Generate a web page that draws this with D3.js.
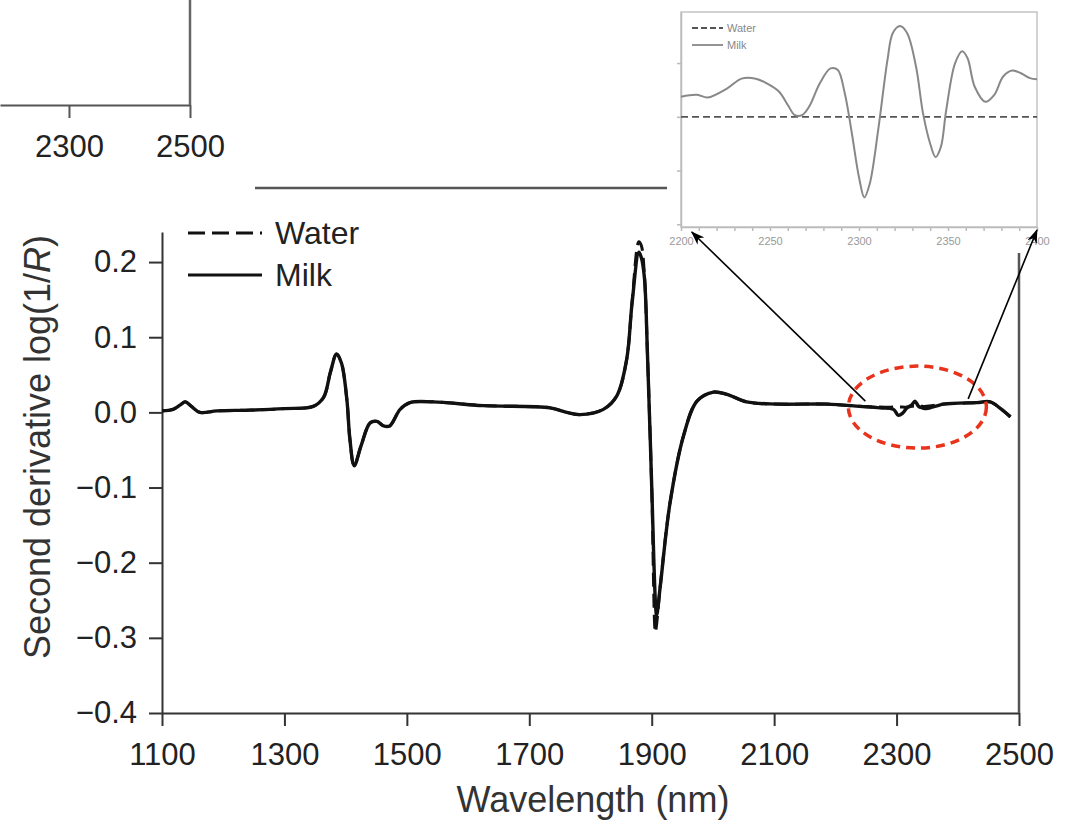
<!DOCTYPE html>
<html>
<head>
<meta charset="utf-8">
<script src="https://cdn.jsdelivr.net/npm/d3@7"></script>
<style>
  body { margin: 0; background: #fff; }
  svg { display: block; font-family: "Liberation Sans", Arial, sans-serif; }
</style>
</head>
<body>
<svg id="chart" width="1066" height="828"></svg>
<script>
// main spectrum
const wavelength = [1100, 1118, 1130, 1138, 1148, 1162, 1190, 1245, 1300, 1347, 1364, 1375, 1385, 1393, 1402, 1407,
  1414, 1425, 1440, 1451, 1462, 1472, 1489, 1505, 1543, 1625, 1734, 1761, 1783, 1821, 1843, 1859, 1868, 1879,
  1883, 1888, 1893, 1900, 1906, 1908, 1914, 1930, 1952, 1974, 2001, 2023, 2055, 2104, 2186, 2240, 2273, 2295,
  2303, 2310, 2317, 2325, 2330, 2336, 2342, 2349, 2377, 2431, 2453, 2470, 2486];
const milk = [0.002, 0.004, 0.010, 0.014, 0.008, 0.000, 0.002, 0.003, 0.005, 0.008, 0.020, 0.053, 0.077, 0.066, 0.017, -0.036,
  -0.071, -0.045, -0.014, -0.012, -0.018, -0.018, 0.004, 0.013, 0.014, 0.009, 0.006, 0.000, -0.003, 0.004, 0.022, 0.070, 0.146, 0.213,
  0.206, 0.180, 0.079, -0.098, -0.252, -0.270, -0.231, -0.120, -0.031, 0.015, 0.027, 0.024, 0.014, 0.011, 0.011, 0.008, 0.006, 0.004,
  -0.004, -0.001, 0.006, 0.010, 0.015, 0.008, 0.006, 0.005, 0.011, 0.013, 0.014, 0.005, -0.006];
const water = [0.002, 0.004, 0.010, 0.014, 0.008, 0.000, 0.002, 0.003, 0.005, 0.008, 0.020, 0.053, 0.078, 0.066, 0.017, -0.036,
  -0.071, -0.045, -0.014, -0.012, -0.018, -0.018, 0.004, 0.013, 0.014, 0.009, 0.006, 0.000, -0.003, 0.004, 0.022, 0.070, 0.148, 0.227,
  0.222, 0.184, 0.079, -0.100, -0.293, -0.282, -0.231, -0.120, -0.031, 0.015, 0.027, 0.024, 0.014, 0.011, 0.011, 0.008, 0.007, 0.007,
  0.007, 0.007, 0.007, 0.008, 0.008, 0.008, 0.008, 0.008, 0.011, 0.013, 0.014, 0.005, -0.006];
const xTicks = [1100, 1300, 1500, 1700, 1900, 2100, 2300, 2500];
const yTicks = [-0.4, -0.3, -0.2, -0.1, 0.0, 0.1, 0.2];
const seriesNames = ["Water", "Milk"];

// zoomed inset 2200-2400 nm
const insetWavelength = [2200, 2209, 2215, 2226, 2234, 2242, 2248, 2255, 2260, 2264, 2268, 2272, 2278, 2284, 2288, 2292,
  2296, 2300, 2303, 2306, 2311, 2316, 2319, 2323, 2327, 2332, 2336, 2340, 2343, 2346, 2349, 2354, 2358, 2361, 2365,
  2371, 2376, 2381, 2386, 2391, 2396, 2400];
const insetMilk = [0.375, 0.41, 0.36, 0.53, 0.71, 0.71, 0.625, 0.47, 0.22, 0.03, 0.03, 0.19, 0.625, 0.9, 0.875, 0.44,
  -0.31, -1.125, -1.5, -1.25, -0.19, 1.06, 1.56, 1.69, 1.56, 0.94, 0.06, -0.5, -0.75, -0.56, 0.125, 1.0, 1.22, 1.09, 0.56,
  0.28, 0.41, 0.75, 0.86, 0.81, 0.72, 0.70];
const insetWaterWavelength = [2200, 2400];
const insetWater = [0, 0];
const insetXTicks = [2200, 2250, 2300, 2350, 2400];
const insetMinorTicks = d3.range(2200, 2401, 10);
const insetYTicks = [-2, -1, 0, 1];

// cropped corner of a neighbouring panel
const cornerTicks = [2300, 2500];

const svg = d3.select("#chart");

const x = d3.scaleLinear().domain([1100, 2500]).range([162, 1019]);
const y = d3.scaleLinear().domain([-0.4, 0.24]).range([713, 232]);

const styleAxis = (g, color, width) => {
  g.selectAll("path.domain").attr("stroke", color).attr("stroke-width", width);
  g.selectAll(".tick line").attr("stroke", color).attr("stroke-width", width);
};

// main axes
const xAxis = svg.append("g")
  .attr("transform", "translate(0,713)")
  .call(d3.axisBottom(x).tickValues(xTicks).tickSize(13).tickSizeOuter(0).tickPadding(17).tickFormat(d3.format("d")));
styleAxis(xAxis, "#333", 2);
xAxis.selectAll("text").attr("font-size", 31).attr("fill", "#222").attr("font-family", "Liberation Sans");

const yAxis = svg.append("g")
  .attr("transform", "translate(162,0)")
  .call(d3.axisLeft(y).tickValues(yTicks).tickSize(13).tickSizeOuter(0).tickPadding(12).tickFormat(d3.format(".1f")));
styleAxis(yAxis, "#333", 2);
yAxis.selectAll("text").attr("font-size", 31).attr("fill", "#222").attr("font-family", "Liberation Sans");

// right frame
svg.append("line")
  .attr("x1", x(2500)).attr("x2", x(2500))
  .attr("y1", y(0.24)).attr("y2", y(-0.4))
  .attr("stroke", "#555").attr("stroke-width", 2.5);

// spectra
const line = d3.line()
  .x((d) => x(d[0]))
  .y((d) => y(d[1]))
  .curve(d3.curveCatmullRom.alpha(0.5));

svg.append("path")
  .datum(d3.zip(wavelength, water))
  .attr("d", line)
  .attr("fill", "none").attr("stroke", "#111").attr("stroke-width", 3)
  .attr("stroke-dasharray", "14,7");

svg.append("path")
  .datum(d3.zip(wavelength, milk))
  .attr("d", line)
  .attr("fill", "none").attr("stroke", "#111").attr("stroke-width", 3.4)
  .attr("stroke-linejoin", "round");

// legend
const legend = svg.append("g").selectAll("g")
  .data(seriesNames)
  .join("g")
  .attr("transform", (d, i) => `translate(188,${233 + i * 42})`);
legend.append("line")
  .attr("x1", 0).attr("x2", 74)
  .attr("stroke", "#111").attr("stroke-width", 3)
  .attr("stroke-dasharray", (d) => (d === "Water" ? "17,7" : null));
legend.append("text")
  .attr("x", 87).attr("y", 11)
  .attr("font-size", 32).attr("fill", "#222")
  .text((d) => d);

// axis titles
svg.append("text")
  .attr("x", 593).attr("y", 812)
  .attr("text-anchor", "middle")
  .attr("font-size", 36).attr("fill", "#333")
  .text("Wavelength (nm)");

const yTitle = svg.append("text")
  .attr("transform", "translate(50,447) rotate(-90)")
  .attr("text-anchor", "middle")
  .attr("font-size", 36).attr("fill", "#333");
yTitle.append("tspan").text("Second derivative log(1/");
yTitle.append("tspan").attr("font-style", "italic").text("R");
yTitle.append("tspan").text(")");

// highlighted region
svg.append("ellipse")
  .attr("cx", x(2334)).attr("cy", y(0.007))
  .attr("rx", 69).attr("ry", 41)
  .attr("fill", "none").attr("stroke", "#e8341c").attr("stroke-width", 3.5)
  .attr("stroke-dasharray", "9,6");

// cropped corner panel (top left)
const cx = d3.scaleLinear().domain([2186, 2500]).range([0, 190]);
const corner = svg.append("g")
  .attr("transform", "translate(0,105)")
  .call(d3.axisBottom(cx).tickValues(cornerTicks).tickSize(13).tickSizeOuter(0).tickPadding(17).tickFormat(d3.format("d")));
styleAxis(corner, "#555", 2);
corner.selectAll("text").attr("font-size", 31).attr("fill", "#222").attr("font-family", "Liberation Sans");
svg.append("line")
  .attr("x1", cx(2500)).attr("x2", cx(2500))
  .attr("y1", 0).attr("y2", 105)
  .attr("stroke", "#666").attr("stroke-width", 2.5);

// stray rule between the panels
svg.append("line")
  .attr("x1", 255).attr("x2", 668)
  .attr("y1", 188).attr("y2", 188)
  .attr("stroke", "#555").attr("stroke-width", 2.5);

// inset
const ix = d3.scaleLinear().domain([2200, 2400]).range([681, 1037]);
const iy = d3.scaleLinear().domain([-2.05, 1.95]).range([227, 12]);

svg.append("rect")
  .attr("x", 667).attr("y", 0).attr("width", 399).attr("height", 253)
  .attr("fill", "#fff");

svg.append("rect")
  .attr("x", ix(2200)).attr("y", iy(1.95))
  .attr("width", ix(2400) - ix(2200)).attr("height", iy(-2.05) - iy(1.95))
  .attr("fill", "none").attr("stroke", "#c4c4c4").attr("stroke-width", 1.5);

const ixAxis = svg.append("g")
  .attr("transform", `translate(0,${iy(-2.05)})`)
  .call(d3.axisBottom(ix).tickValues(insetMinorTicks).tickSize(4).tickSizeOuter(0).tickPadding(6)
    .tickFormat((d) => (insetXTicks.includes(d) ? d : "")));
styleAxis(ixAxis, "#bbb", 1.5);
ixAxis.selectAll("text").attr("font-size", 11).attr("fill", "#999");

const iyAxis = svg.append("g")
  .attr("transform", `translate(${ix(2200)},0)`)
  .call(d3.axisLeft(iy).tickValues(insetYTicks).tickSize(4).tickSizeOuter(0).tickFormat(""));
styleAxis(iyAxis, "#bbb", 1.5);

const iline = d3.line()
  .x((d) => ix(d[0]))
  .y((d) => iy(d[1]))
  .curve(d3.curveCatmullRom.alpha(0.5));

svg.append("path")
  .datum(d3.zip(insetWaterWavelength, insetWater))
  .attr("d", iline)
  .attr("fill", "none").attr("stroke", "#555").attr("stroke-width", 1.8)
  .attr("stroke-dasharray", "7,4");

svg.append("path")
  .datum(d3.zip(insetWavelength, insetMilk))
  .attr("d", iline)
  .attr("fill", "none").attr("stroke", "#888").attr("stroke-width", 2);

const ilegend = svg.append("g").selectAll("g")
  .data(seriesNames)
  .join("g")
  .attr("transform", (d, i) => `translate(692,${28 + i * 17})`);
ilegend.append("line")
  .attr("x1", 0).attr("x2", 31)
  .attr("stroke", (d) => (d === "Water" ? "#555" : "#888")).attr("stroke-width", 1.8)
  .attr("stroke-dasharray", (d) => (d === "Water" ? "6,3" : null));
ilegend.append("text")
  .attr("x", 35).attr("y", 4)
  .attr("font-size", 11).attr("fill", "#888")
  .text((d) => d);

// arrows from the highlighted region to the inset
const defs = svg.append("defs");
defs.append("marker")
  .attr("id", "head")
  .attr("markerUnits", "userSpaceOnUse")
  .attr("markerWidth", 14).attr("markerHeight", 10)
  .attr("refX", 13).attr("refY", 5)
  .attr("orient", "auto")
  .append("path")
  .attr("d", "M0,0 L14,5 L0,10 L4,5 Z")
  .attr("fill", "#000");

const arrows = [
  [[x(2249), y(0.015)], [ix(2206), 232]],
  [[x(2417), y(0.018)], [ix(2400), 230]],
];
svg.append("g").selectAll("line")
  .data(arrows)
  .join("line")
  .attr("x1", (d) => d[0][0]).attr("y1", (d) => d[0][1])
  .attr("x2", (d) => d[1][0]).attr("y2", (d) => d[1][1])
  .attr("stroke", "#000").attr("stroke-width", 1.6)
  .attr("marker-end", "url(#head)");
</script>
</body>
</html>
